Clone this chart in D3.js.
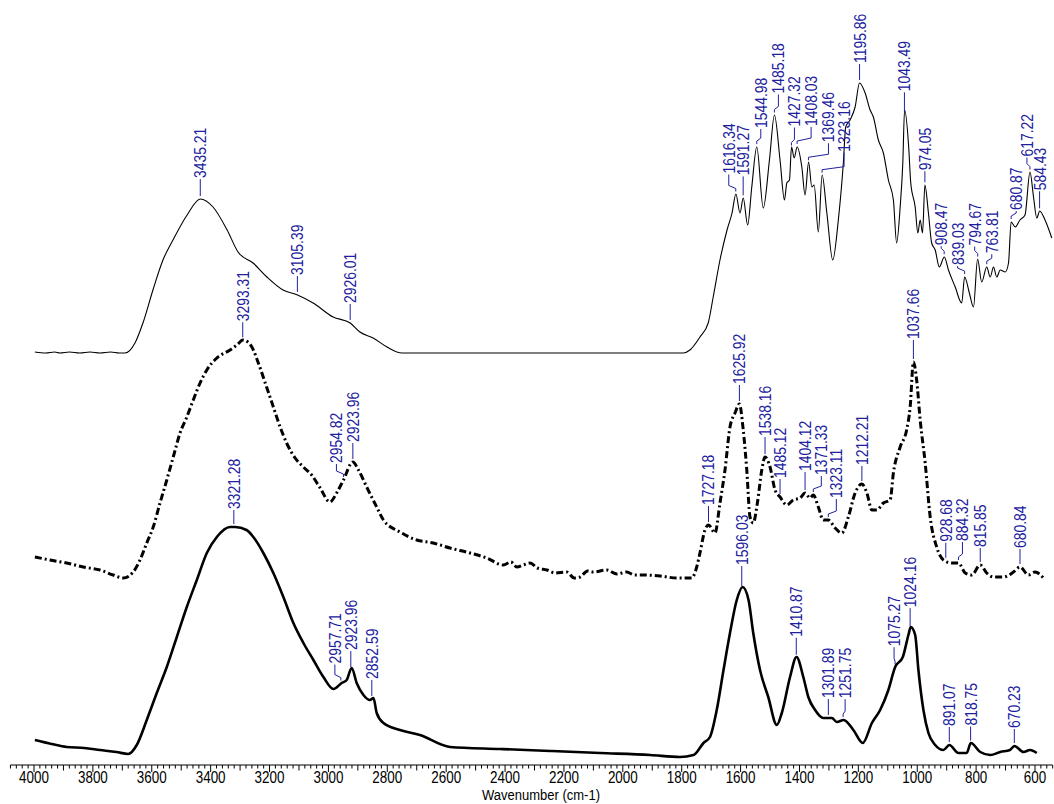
<!DOCTYPE html>
<html><head><meta charset="utf-8">
<script src="https://cdn.jsdelivr.net/npm/d3@7"></script>
<style>
html,body{margin:0;padding:0;background:#fff;}
svg{display:block;}
</style></head>
<body>
<svg id="chart" width="1054" height="804"></svg>
<script>
// ---- data (wavenumber cm-1, intensity a.u.) ----
const topCurve = [[3997,448],[3960,447],[3930,448],[3912,447],[3880,448],[3844,447],[3810,448],[3776,447],[3740,448],[3710,447],[3691,447],[3657,457],[3630,477],[3596,510],[3562,540],[3528,560],[3480,585],[3435,601],[3392,593],[3344,570],[3307,548],[3256,537],[3209,523],[3154,510],[3105,505],[3052,497],[2984,483],[2926,477],[2893,468],[2848,462],[2801,453],[2750,447],[2400,447],[2000,447],[1795,447],[1772,450],[1738,463],[1710,477],[1693,503],[1670,540],[1646,570],[1629,587],[1616,606],[1602,587],[1591,602],[1576,575],[1562,613],[1545,653],[1523,592],[1502,640],[1485,685],[1466,640],[1451,600],[1443,617],[1434,620],[1427,653],[1418,642],[1408,653],[1392,633],[1381,605],[1369,638],[1358,613],[1350,615],[1336,568],[1323,625],[1307,587],[1287,540],[1268,580],[1251,637],[1243,673],[1228,680],[1211,693],[1196,717],[1177,707],[1160,690],[1149,683],[1132,660],[1115,647],[1098,620],[1081,600],[1070,557],[1058,593],[1049,637],[1043,690],[1029,653],[1022,617],[1007,593],[998,567],[990,580],[982,567],[974,615],[962,587],[951,557],[939,550],[925,533],[908,543],[894,530],[871,513],[849,497],[839,523],[823,507],[809,493],[795,541],[781,518],[764,533],[752,523],[741,533],[730,523],[718,530],[701,528],[690,537],[681,578],[667,573],[651,580],[634,585],[617,628],[605,603],[594,582],[584,589],[566,580],[543,562]];

const middleCurve = [[3997,243],[3946,240],[3889,237],[3833,233],[3776,230],[3731,225],[3697,222],[3663,228],[3640,240],[3617,257],[3595,273],[3572,297],[3549,320],[3527,343],[3504,367],[3481,383],[3459,400],[3436,417],[3413,430],[3379,442],[3334,450],[3311,455],[3290,460],[3260,453],[3238,437],[3210,413],[3187,393],[3164,373],[3142,357],[3113,342],[3085,333],[3057,325],[3028,312],[2995,298],[2972,307],[2949,320],[2917,338],[2898,330],[2870,313],[2836,293],[2813,280],[2757,268],[2700,260],[2644,257],[2587,252],[2519,247],[2462,242],[2406,235],[2380,238],[2360,233],[2338,235],[2315,237],[2290,232],[2258,230],[2230,227],[2191,228],[2165,222],[2145,223],[2120,229],[2100,228],[2055,230],[2020,226],[1987,228],[1960,225],[1930,225],[1873,224],[1817,222],[1766,222],[1749,233],[1738,247],[1721,270],[1709,275],[1687,267],[1670,297],[1653,330],[1636,373],[1619,387],[1604,396],[1591,370],[1579,330],[1568,283],[1557,277],[1543,297],[1528,330],[1517,343],[1500,333],[1483,310],[1466,303],[1443,295],[1421,300],[1398,302],[1381,307],[1364,302],[1353,305],[1336,293],[1319,280],[1302,280],[1279,272],[1256,267],[1234,283],[1211,307],[1188,316],[1171,307],[1154,290],[1137,290],[1115,297],[1092,300],[1081,327],[1058,353],[1036,370],[1024,393],[1013,438],[1002,420],[990,380],[973,337],[956,283],[934,253],[911,240],[883,237],[860,237],[837,227],[815,225],[786,235],[764,227],[741,223],[707,223],[673,228],[651,233],[622,225],[600,228],[571,222]];

const bottomCurve = [[3997,60],[3940,56],[3889,53],[3830,52],[3776,50],[3720,48],[3680,46],[3651,55],[3617,80],[3583,107],[3549,133],[3515,163],[3481,193],[3447,220],[3413,247],[3379,263],[3334,273],[3317,273],[3278,270],[3255,263],[3221,247],[3187,227],[3153,203],[3119,177],[3085,157],[3051,140],[3017,123],[2983,111],[2955,117],[2938,120],[2921,132],[2904,117],[2881,105],[2859,100],[2847,102],[2836,87],[2813,77],[2757,70],[2689,65],[2587,53],[2417,51],[2247,49],[2077,47],[1907,45],[1806,43],[1760,45],[1726,57],[1704,63],[1681,90],[1658,130],[1636,167],[1613,200],[1593,213],[1573,200],[1557,167],[1534,130],[1506,103],[1477,75],[1460,87],[1432,123],[1410,143],[1387,123],[1370,103],[1347,90],[1319,82],[1290,82],[1273,78],[1250,80],[1217,70],[1185,57],[1154,77],[1126,90],[1098,110],[1075,133],[1049,143],[1030,165],[1022,173],[1007,165],[996,130],[979,90],[962,67],[939,55],[911,50],[891,55],[860,47],[832,47],[818,57],[786,48],[752,45],[718,48],[685,50],[670,54],[639,48],[617,50],[594,47]];

// peak labels
const topLabels = ["3435.21","3105.39","2926.01","1616.34","1591.27","1544.98","1485.18","1427.32","1408.03","1369.46","1323.16","1195.86","1043.49","974.05","908.47","839.03","794.67","763.81","680.87","617.22","584.43"];
const middleLabels = ["3293.31","2954.82","2923.96","1727.18","1625.92","1538.16","1485.12","1404.12","1371.33","1323.11","1212.21","1037.66","928.68","884.32","815.85","680.84"];
const middleLabelAt = [3291,2949,2917,1709,1604,1517,1466,1381,1353,1302,1188,1013,903,860,786,651];
const bottomLabels = ["3321.28","2957.71","2923.96","2852.59","1596.03","1410.87","1301.89","1251.75","1075.27","1024.16","891.07","818.75","670.23"];

// axis ticks
const tickLabels = [4000,3800,3600,3400,3200,3000,2800,2600,2400,2200,2000,1800,1600,1400,1200,1000,800,600];
const axisTitle = "Wavenumber (cm-1)";

// ---- layout (label leader offsets: [text dx px, rise px]) ----
const topLayout = [[0,19],[0,18],[0,18],[-7,19],[0,21],[4,17],[4,20],[3,20],[14,19],[20,19],[22,22],[0,18],[0,21],[0,13],[-3,10],[-7,10],[-3,12],[5,12],[5,10],[-3,14],[0,19]];
const middleLayout = [[0,17],[-7,15],[0,18],[0,18],[0,18],[0,19],[0,17],[0,20],[8,18],[8,20],[0,17],[0,21],[0,17],[4,20],[0,16],[0,17]];
const bottomLayout = [[0,16],[-6,18],[0,18],[0,18],[0,22],[0,19],[0,18],[2,20],[-1,19],[0,20],[0,17],[0,16],[0,16]];

const FONT = "'Liberation Sans',Arial,sans-serif";
const NARROW = 0.84;
const LABEL_COLOR = "#20209e";

const svg = d3.select("#chart");
const x = d3.scaleLinear().domain([4000, 600]).range([34, 1035]);
const y = d3.scaleLinear().domain([0, 800]).range([800, 0]);
const axisY = 765;

const line = d3.line().x(d => x(d[0])).y(d => y(d[1])).curve(d3.curveMonotoneX);

function interp(curve, w){
  for (let i=0;i<curve.length-1;i++){
    const a=curve[i], b=curve[i+1];
    if ((w<=a[0] && w>=b[0])){
      const t=(a[0]-w)/(a[0]-b[0]);
      return a[1]+(b[1]-a[1])*t;
    }
  }
  return curve[curve.length-1][1];
}

svg.append("path").datum(topCurve).attr("d", line)
  .attr("fill","none").attr("stroke","#000").attr("stroke-width",1.1);
svg.append("path").datum(middleCurve).attr("d", line)
  .attr("fill","none").attr("stroke","#000").attr("stroke-width",3)
  .attr("stroke-dasharray","7,3,2,3");
svg.append("path").datum(bottomCurve).attr("d", line)
  .attr("fill","none").attr("stroke","#000").attr("stroke-width",2.6).attr("stroke-linejoin","round");

function drawLabels(curve, texts, anchors, layout){
  const g = svg.append("g");
  texts.forEach((t,i)=>{
    const w = anchors[i];
    const xa = x(w), ya = y(interp(curve, w));
    const [dx, rise] = layout[i];
    const xt = xa + dx, yb = ya - rise;
    let pts;
    if (Math.abs(dx) < 1) pts = [[xa, ya-3],[xa, yb-1]];
    else pts = [[xa, ya-3],[xa, ya-6],[xt, ya-9],[xt, yb-1]];
    g.append("path").attr("d", d3.line()(pts))
      .attr("fill","none").attr("stroke",LABEL_COLOR).attr("stroke-width",1);
    g.append("text").text(t)
      .attr("transform",`translate(${xt},${yb-2}) rotate(-90) scale(${NARROW},1)`)
      .attr("dy","0.36em")
      .attr("font-family",FONT).attr("font-size",16.6)
      .attr("fill",LABEL_COLOR);
  });
}
drawLabels(topCurve, topLabels, topLabels.map(Number), topLayout);
drawLabels(middleCurve, middleLabels, middleLabelAt, middleLayout);
drawLabels(bottomCurve, bottomLabels, bottomLabels.map(Number), bottomLayout);

// axis
const ax = svg.append("g");
ax.append("line").attr("x1", x(4080)).attr("x2", x(540)).attr("y1", axisY).attr("y2", axisY)
  .attr("stroke","#000").attr("stroke-width",1);
d3.range(540, 4081, 20).forEach(v=>{
  const len = v % 200 === 0 ? 7 : (v % 100 === 0 ? 5.5 : 3.5);
  ax.append("line").attr("x1", x(v)).attr("x2", x(v)).attr("y1", axisY).attr("y2", axisY+len)
    .attr("stroke","#000").attr("stroke-width",1);
});
ax.selectAll("text.tick").data(tickLabels).enter().append("text")
  .attr("transform", d=>`translate(${x(d)},782.5) scale(${NARROW},1)`)
  .attr("text-anchor","middle")
  .attr("font-family",FONT).attr("font-size",16).attr("fill","#000").text(d=>d);
ax.append("text").attr("transform", `translate(541,799.5) scale(${NARROW},1)`)
  .attr("text-anchor","middle")
  .attr("font-family",FONT).attr("font-size",15.5).attr("fill","#000").text(axisTitle);
</script>
</body></html>
